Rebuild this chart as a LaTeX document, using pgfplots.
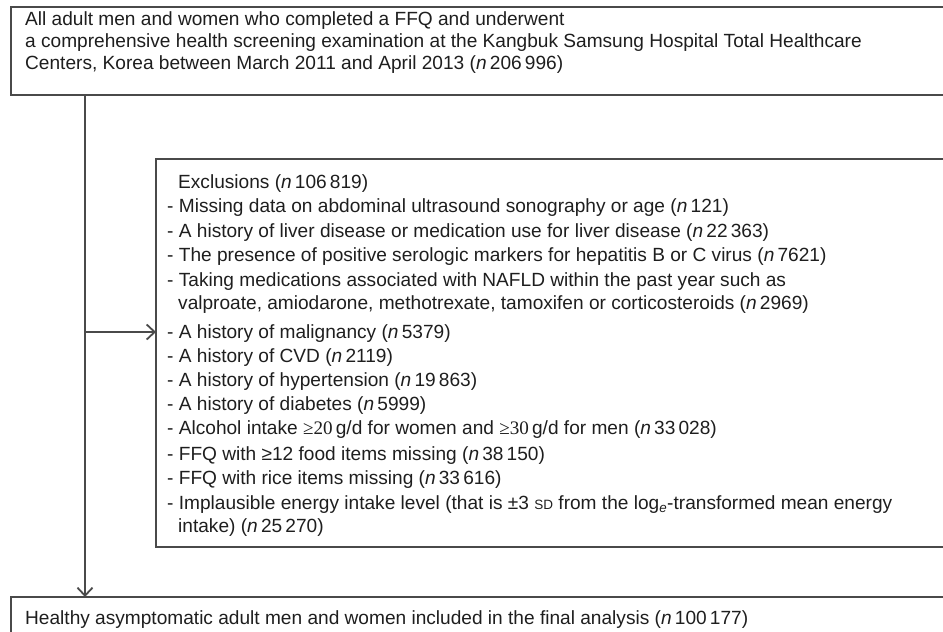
\documentclass[border=0pt]{standalone}
\usepackage{pgfplots}
\pgfplotsset{compat=1.18}
\usetikzlibrary{arrows.meta}
\usepackage{fontspec}
\setmainfont{Liberation Sans}
\newfontfamily\serifnum{Liberation Serif}
\definecolor{txt}{HTML}{1E1E1E}
\definecolor{ln}{HTML}{4A4A4A}
\newcommand{\nn}{\textit{n}\,}
\begin{document}
\begin{tikzpicture}[t/.style={anchor=base west, inner sep=0pt, text=txt, font=\fontsize{19.1}{22}\selectfont}]
\useasboundingbox (0,0) rectangle (943pt,632pt);
\clip (0,0) rectangle (943pt,632pt);
\begin{axis}[at={(0,0)}, anchor=south west, scale only axis, width=943pt, height=632pt,
  xmin=0, xmax=943, ymin=0, ymax=632, y dir=reverse, hide axis, clip=false]
% boxes
\draw[ln, line width=1.6pt] (axis cs:11,7) rectangle (axis cs:990,95);
\draw[ln, line width=1.6pt] (axis cs:156,159) rectangle (axis cs:990,547);
\draw[ln, line width=1.6pt] (axis cs:11,597) rectangle (axis cs:990,660);
% arrows
\draw[ln, line width=2.6pt, -{Straight Barb[length=8pt,width=15pt,line width=1.8pt]}] (axis cs:85,95) -- (axis cs:85,597);
\draw[ln, line width=2.6pt, -{Straight Barb[length=8pt,width=15pt,line width=1.8pt]}] (axis cs:85,332) -- (axis cs:156,332);
% top text
\node[t] at (axis cs:25,25) {All adult men and women who completed a FFQ and underwent};
\node[t] at (axis cs:25,47) {a comprehensive health screening examination at the Kangbuk Samsung Hospital Total Healthcare};
\node[t] at (axis cs:25,69) {Centers, Korea between March 2011 and April 2013 (\nn 206\,996)};
% exclusions
\node[t] at (axis cs:178,188) {Exclusions (\nn 106\,819)};
\node[t] at (axis cs:167,212) {- Missing data on abdominal ultrasound sonography or age (\nn 121)};
\node[t] at (axis cs:167,237) {- A history of liver disease or medication use for liver disease (\nn 22\,363)};
\node[t] at (axis cs:167,261) {- The presence of positive serologic markers for hepatitis B or C virus (\nn 7621)};
\node[t] at (axis cs:167,286) {- Taking medications associated with NAFLD within the past year such as};
\node[t] at (axis cs:178,309) {valproate, amiodarone, methotrexate, tamoxifen or corticosteroids (\nn 2969)};
\node[t] at (axis cs:167,338) {- A history of malignancy (\nn 5379)};
\node[t] at (axis cs:167,362) {- A history of CVD (\nn 2119)};
\node[t] at (axis cs:167,386) {- A history of hypertension (\nn 19\,863)};
\node[t] at (axis cs:167,410) {- A history of diabetes (\nn 5999)};
\node[t] at (axis cs:167,434) {- Alcohol intake {\serifnum ≥20}\,g/d for women and {\serifnum ≥30}\,g/d for men (\nn 33\,028)};
\node[t] at (axis cs:167,460) {- FFQ with ≥12 food items missing (\nn 38\,150)};
\node[t] at (axis cs:167,484) {- FFQ with rice items missing (\nn 33\,616)};
\node[t] at (axis cs:167,509) {- Implausible energy intake level (that is ±3 {\fontsize{13.5}{14}\selectfont SD} from the log\textsubscript{\textit{e}}-transformed mean energy};
\node[t] at (axis cs:178,532) {intake) (\nn 25\,270)};
% bottom
\node[t] at (axis cs:25,624) {Healthy asymptomatic adult men and women included in the final analysis (\nn 100\,177)};
\end{axis}
\end{tikzpicture}
\end{document}
